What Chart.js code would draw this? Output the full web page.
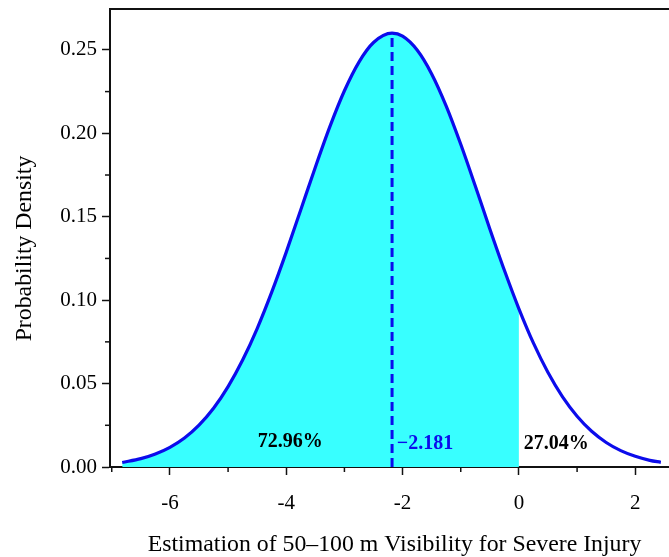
<!DOCTYPE html>
<html>
<head>
<meta charset="utf-8">
<script src="https://cdn.jsdelivr.net/npm/chart.js@4/dist/chart.umd.min.js"></script>
<style>
  html, body { margin: 0; padding: 0; background: #fff; }
  #wrap { width: 669px; height: 557px; position: relative; }
</style>
</head>
<body>
<div id="wrap"><canvas id="c"></canvas></div>
<script>
// ---- data ----
const xValues = [-6.82,-6.5,-6.25,-6,-5.75,-5.5,-5.25,-5,-4.75,-4.5,-4.25,-4,-3.75,-3.5,-3.25,-3,-2.75,-2.5,-2.181,-2,-1.75,-1.5,-1.25,-1,-0.75,-0.5,-0.25,0,0.25,0.5,0.75,1,1.25,1.5,1.75,2,2.25,2.44];
const density = [0.0027,0.0050,0.0078,0.0118,0.0174,0.0251,0.0352,0.0482,0.0641,0.0830,0.1048,0.1288,0.1542,0.1797,0.2040,0.2255,0.2427,0.2544,0.2600,0.2582,0.2499,0.2356,0.2163,0.1934,0.1684,0.1427,0.1179,0.0948,0.0742,0.0566,0.0420,0.0304,0.0214,0.0147,0.0098,0.0064,0.0040,0.0028];
const meanValue = -2.181;
const peakValue = 0.26;
const cutValue = 0;
const leftShareLabel = "72.96%";
const rightShareLabel = "27.04%";
const meanLabel = "\u22122.181";
const xTicks = [-6, -4, -2, 0, 2];
const yTicks = [0, 0.05, 0.10, 0.15, 0.20, 0.25];
const xMinorTicks = [-7, -5, -3, -1, 1];
const yMinorTicks = [0.025, 0.075, 0.125, 0.175, 0.225];
const xTitle = "Estimation of 50\u2013100 m Visibility for Severe Injury";
const yTitle = "Probability Density";

// ---- derived tables ----
const curvePts = xValues.map((x, i) => ({ x: x, y: density[i] }));
const fillPts = curvePts.filter(p => p.x <= cutValue);
const meanPts = [{ x: meanValue, y: 0 }, { x: meanValue, y: peakValue }];

const SERIF = "'Liberation Serif', 'Times New Roman', serif";
const BLUE = "rgb(12,12,235)";
const CYAN = "rgb(56,255,255)";

const extras = {
  id: 'extras',
  afterDraw(chart) {
    const { ctx, chartArea, scales } = chart;
    const xs = scales.x, ys = scales.y;
    ctx.save();
    // top border line
    ctx.strokeStyle = '#111';
    ctx.lineWidth = 2;
    ctx.beginPath();
    ctx.moveTo(chartArea.left, chartArea.top);
    ctx.lineTo(chartArea.right, chartArea.top);
    ctx.stroke();
    // minor ticks
    ctx.lineWidth = 1.5;
    xMinorTicks.forEach(v => {
      const px = xs.getPixelForValue(v);
      if (px < chartArea.left - 1 || px > chartArea.right) return;
      ctx.beginPath();
      ctx.moveTo(px, chartArea.bottom);
      ctx.lineTo(px, chartArea.bottom + 5);
      ctx.stroke();
    });
    yMinorTicks.forEach(v => {
      const py = ys.getPixelForValue(v);
      ctx.beginPath();
      ctx.moveTo(chartArea.left, py);
      ctx.lineTo(chartArea.left - 5, py);
      ctx.stroke();
    });
    // axis titles
    ctx.fillStyle = '#000';
    ctx.font = "23.8px " + SERIF;
    ctx.textAlign = 'center';
    ctx.textBaseline = 'alphabetic';
    ctx.fillText(xTitle, 394.5, 551);
    ctx.save();
    ctx.translate(31, 248.5);
    ctx.rotate(-Math.PI / 2);
    ctx.fillText(yTitle, 0, 0);
    ctx.restore();
    // annotations
    ctx.font = "bold 20px " + SERIF;
    ctx.textBaseline = 'middle';
    ctx.fillStyle = '#000';
    ctx.textAlign = 'center';
    ctx.fillText(leftShareLabel, xs.getPixelForValue(-3.93), ys.getPixelForValue(0.0152));
    ctx.textAlign = 'left';
    ctx.fillText(rightShareLabel, xs.getPixelForValue(0.085), ys.getPixelForValue(0.0140));
    ctx.fillStyle = BLUE;
    ctx.fillText(meanLabel, xs.getPixelForValue(-2.10), ys.getPixelForValue(0.0140));
    ctx.restore();
  }
};

new Chart(document.getElementById('c'), {
  type: 'line',
  data: {
    datasets: [
      {
        data: curvePts, borderColor: BLUE, borderWidth: 3.2, pointRadius: 0,
        cubicInterpolationMode: 'monotone', fill: false, order: 0
      },
      {
        data: meanPts, borderColor: BLUE, borderWidth: 3, borderDash: [9, 5],
        pointRadius: 0, fill: false, order: 1
      },
      {
        data: fillPts, borderWidth: 0, borderColor: 'rgba(0,0,0,0)', backgroundColor: CYAN,
        pointRadius: 0, cubicInterpolationMode: 'monotone', fill: 'origin', order: 2
      }
    ]
  },
  options: {
    responsive: true,
    maintainAspectRatio: false,
    animation: false,
    layout: { padding: { top: 9, right: 0, left: 0, bottom: 0 } },
    plugins: { legend: { display: false }, tooltip: { enabled: false } },
    scales: {
      x: {
        type: 'linear', min: -7.03, max: 2.58,
        afterBuildTicks: s => { s.ticks = xTicks.map(v => ({ value: v })); },
        afterFit: s => { s.height = 90; s.paddingLeft = 0; s.paddingRight = 0; },
        ticks: { color: '#000', font: { family: SERIF, size: 21 }, padding: 16, maxRotation: 0,
                 callback: v => String(v) },
        grid: { drawOnChartArea: false, drawTicks: true, tickLength: 8, tickColor: '#111', tickWidth: 1.5 },
        border: { display: true, color: '#111', width: 2 },
        title: { display: false }
      },
      y: {
        type: 'linear', min: 0, max: 0.2745,
        afterBuildTicks: s => { s.ticks = yTicks.map(v => ({ value: v })); },
        afterFit: s => { s.width = 110; s.paddingTop = 0; s.paddingBottom = 0; },
        ticks: { color: '#000', font: { family: SERIF, size: 21 }, padding: 5,
                 callback: v => Number(v).toFixed(2) },
        grid: { drawOnChartArea: false, drawTicks: true, tickLength: 8, tickColor: '#111', tickWidth: 1.5 },
        border: { display: true, color: '#111', width: 2 },
        title: { display: false }
      }
    }
  },
  plugins: [extras]
});
</script>
</body>
</html>
